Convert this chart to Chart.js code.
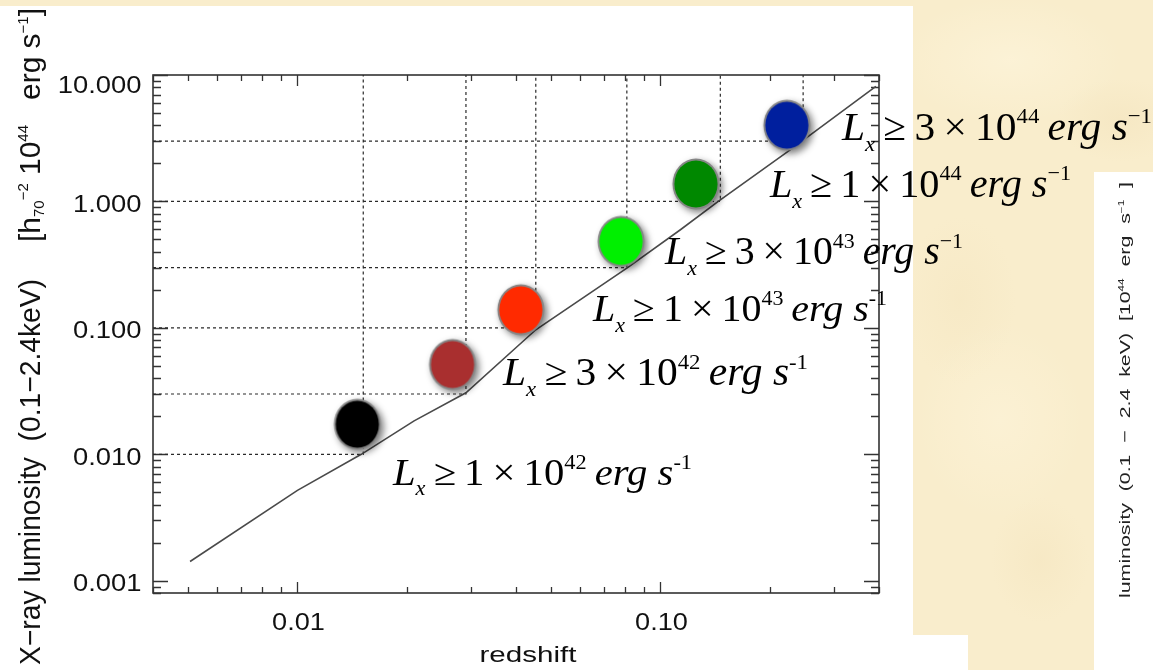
<!DOCTYPE html>
<html lang="en">
<head>
<meta charset="utf-8">
<title>X-ray luminosity limit vs redshift</title>
<script src="https://cdn.jsdelivr.net/npm/chart.js@4.4.1/dist/chart.umd.min.js"></script>
<style>
  html, body { margin: 0; padding: 0; }
  body {
    width: 1153px; height: 670px; overflow: hidden;
    background-color: #f9edcc;
    background-image:
      radial-gradient(ellipse 160px 90px at 1010px 60px, rgba(255,248,226,0.45), rgba(255,248,226,0) 70%),
      radial-gradient(ellipse 120px 140px at 1000px 420px, rgba(255,247,224,0.4), rgba(255,247,224,0) 70%),
      radial-gradient(ellipse 90px 60px at 1120px 120px, rgba(240,222,180,0.35), rgba(240,222,180,0) 70%),
      radial-gradient(ellipse 80px 120px at 960px 300px, rgba(242,225,184,0.3), rgba(242,225,184,0) 70%),
      radial-gradient(ellipse 70px 90px at 1040px 560px, rgba(242,225,184,0.35), rgba(242,225,184,0) 70%);
  }
  canvas { display: block; }
</style>
</head>
<body>
<canvas id="chart" width="1153" height="670"></canvas>
<script>
// Survey flux limit: minimum detectable luminosity as a function of redshift
const curveZ = [0.00506, 0.0100, 0.01499, 0.02096, 0.02912, 0.04535, 0.0810, 0.1135, 0.1443, 0.2247, 0.3922];
const curveL = [0.00142, 0.00519, 0.0100, 0.01840, 0.03066, 0.0966, 0.298, 0.5973, 1.000, 2.487, 8.124];

// Luminosity cuts and the redshift where the flux limit reaches each cut
const thresholdL = [0.01, 0.03, 0.1, 0.3, 1, 3];
const thresholdZ = [0.01518, 0.02912, 0.04535, 0.0808, 0.1462, 0.2472];

// Volume-limited sample markers
const sampleZ = [0.01462, 0.02674, 0.04125, 0.0779, 0.1252, 0.2229];
const sampleL = [0.01727, 0.0513, 0.139, 0.4827, 1.375, 4.007];
const sampleColors = ['#000000', '#a92f2f', '#ff2a00', '#00f000', '#008800', '#001f9e'];

// Text of the cut labels: L_x >= m x 10^e erg s^-1
const limitMantissa = ['1', '3', '1', '3', '1', '3'];
const limitExponent = ['42', '42', '43', '43', '44', '44'];

// Axes
const xTickValues = [0.01, 0.1];
const xTickLabels = ['0.01', '0.10'];
const yTickValues = [0.001, 0.01, 0.1, 1, 10];
const yTickLabels = ['0.001', '0.010', '0.100', '1.000', '10.000'];
const X_RANGE = [0.004, 0.4];
const Y_RANGE = [0.0008, 10];

// Placement of the cut labels (left edge, baseline, run length, font size)
const labelLayout = [
  { x: 393, y: 485, w: 299, size: 37, minus: '-' },
  { x: 503, y: 385, w: 305, size: 39, minus: '-' },
  { x: 593, y: 321, w: 294, size: 38, minus: '-' },
  { x: 665, y: 264, w: 298, size: 39, minus: '\u2212' },
  { x: 770, y: 197, w: 301, size: 40, minus: '\u2212' },
  { x: 842, y: 140, w: 310, size: 40, minus: '\u2212' }
];

const SANS = '"Liberation Sans", Arial, sans-serif';
const SERIF = '"Liberation Serif", "Times New Roman", serif';

function minorValues(min, max) {
  const out = [];
  for (let e = Math.floor(Math.log10(min)); e <= Math.ceil(Math.log10(max)); e++) {
    for (let k = 2; k <= 9; k++) {
      const v = k * Math.pow(10, e);
      if (v >= min * 0.999 && v <= max * 1.001) out.push(v);
    }
  }
  return out;
}

function fontOf(r, family) {
  return (r.italic ? 'italic ' : '') + r.size.toFixed(2) + 'px ' + (r.family || family);
}
function runsWidth(ctx, runs, family) {
  let w = 0;
  for (const r of runs) { ctx.font = fontOf(r, family); w += ctx.measureText(r.t).width; }
  return w;
}
// Draw a sequence of text runs (sub/superscripts via dy), optionally rotated and stretched
function drawRuns(ctx, runs, o) {
  ctx.save();
  const natural = runsWidth(ctx, runs, o.family);
  ctx.translate(o.x, o.y);
  if (o.rotate) ctx.rotate(o.rotate);
  const sx = o.length ? o.length / natural : (o.sx || 1);
  ctx.scale(sx, o.sy || 1);
  let cx = o.align === 'right' ? -natural : (o.align === 'center' ? -natural / 2 : 0);
  ctx.fillStyle = o.color || '#000';
  ctx.textBaseline = 'alphabetic';
  ctx.textAlign = 'left';
  for (const r of runs) {
    ctx.font = fontOf(r, o.family);
    ctx.fillText(r.t, cx, r.dy || 0);
    cx += ctx.measureText(r.t).width;
  }
  ctx.restore();
}

// Round marker with grey rim and soft drop shadow, used as a point style
function markerImage(fill) {
  const w = 74, h = 78;
  const c = document.createElement('canvas');
  c.width = w; c.height = h;
  const g = c.getContext('2d');
  g.save();
  g.shadowColor = 'rgba(0,0,0,0.5)';
  g.shadowBlur = 7;
  g.shadowOffsetX = 3;
  g.shadowOffsetY = 3;
  g.beginPath();
  g.ellipse(w / 2, h / 2, 23.5, 25.5, 0, 0, Math.PI * 2);
  g.fillStyle = '#868686';
  g.fill();
  g.restore();
  g.beginPath();
  g.ellipse(w / 2, h / 2, 21.6, 23.6, 0, 0, Math.PI * 2);
  g.fillStyle = fill;
  g.fill();
  return c;
}

const framePlugin = {
  id: 'frame',
  beforeDraw(chart) {
    const ctx = chart.ctx;
    ctx.save();
    ctx.fillStyle = '#ffffff';
    ctx.fillRect(0, 6, 913, 664);
    ctx.fillRect(913, 635, 55, 35);
    ctx.fillRect(1094, 172, 59, 498);
    ctx.restore();
  },
  beforeDatasetsDraw(chart) {
    const ctx = chart.ctx;
    const a = chart.chartArea;
    const xs = chart.scales.x, ys = chart.scales.y;
    ctx.save();
    ctx.strokeStyle = '#333333';
    ctx.lineWidth = 1.6;
    ctx.strokeRect(a.left, a.top, a.right - a.left, a.bottom - a.top);

    ctx.lineWidth = 1.3;
    ctx.beginPath();
    const xMinor = minorValues(X_RANGE[0], X_RANGE[1]);
    const yMinor = minorValues(Y_RANGE[0], Y_RANGE[1]);
    const xt = (v, len) => {
      const px = Math.round(xs.getPixelForValue(v)) + 0.5;
      ctx.moveTo(px, a.bottom); ctx.lineTo(px, a.bottom - len);
      ctx.moveTo(px, a.top); ctx.lineTo(px, a.top + len);
    };
    const yt = (v, len) => {
      const py = Math.round(ys.getPixelForValue(v)) + 0.5;
      ctx.moveTo(a.left, py); ctx.lineTo(a.left + len, py);
      ctx.moveTo(a.right, py); ctx.lineTo(a.right - len, py);
    };
    xMinor.forEach(v => xt(v, 6));
    xTickValues.forEach(v => xt(v, 11));
    yMinor.forEach(v => yt(v, 8));
    yTickValues.forEach(v => yt(v, 15));
    ctx.stroke();
    ctx.restore();

    // tick labels
    const F = 23;
    yTickValues.forEach((v, i) => {
      const py = ys.getPixelForValue(v);
      const cy = Math.max(py + 2, a.top + 10);
      drawRuns(ctx, [{ t: yTickLabels[i], size: F }], {
        x: 141.5, y: cy + 0.358 * F, align: 'right', sx: 1.19, family: SANS, color: '#111'
      });
    });
    xTickValues.forEach((v, i) => {
      const px = xs.getPixelForValue(v);
      drawRuns(ctx, [{ t: xTickLabels[i], size: F }], {
        x: px + 1, y: 630, align: 'center', sx: 1.18, family: SANS, color: '#111'
      });
    });

    // axis titles
    drawRuns(ctx, [{ t: 'redshift', size: 21.5 }], {
      x: 528, y: 661.5, align: 'center', length: 97, family: SANS, color: '#111'
    });
    const T = 28;
    drawRuns(ctx, [{ t: 'X\u2212ray luminosity  (0.1\u22122.4keV)', size: T }], {
      x: 40, y: 665, rotate: -Math.PI / 2, length: 386, sy: 1.05, family: SANS, color: '#111'
    });
    drawRuns(ctx, [
      { t: '[h', size: T },
      { t: '70', size: T * 0.5, dy: T * 0.12 },
      { t: '\u22122', size: T * 0.5, dy: -T * 0.42 },
      { t: ' 10', size: T },
      { t: '44', size: T * 0.5, dy: -T * 0.42 },
      { t: '   erg s', size: T },
      { t: '\u22121', size: T * 0.5, dy: -T * 0.42 },
      { t: ']', size: T }
    ], { x: 40, y: 242, rotate: -Math.PI / 2, length: 234, sy: 1.05, family: SANS, color: '#111' });

    // side caption
    const S = 21;
    drawRuns(ctx, [
      { t: 'luminosity  (0.1  \u2212  2.4  keV)  [10', size: S },
      { t: '44', size: S * 0.55, dy: -S * 0.42 },
      { t: '  erg  s', size: S },
      { t: '\u22121', size: S * 0.55, dy: -S * 0.42 },
      { t: '  ]', size: S }
    ], { x: 1130, y: 598, rotate: -Math.PI / 2, length: 416, sy: 0.72, family: SANS, color: '#222' });
  },
  afterDraw(chart) {
    const ctx = chart.ctx;
    labelLayout.forEach((p, i) => {
      const F = p.size;
      drawRuns(ctx, [
        { t: 'L', size: F, italic: true },
        { t: 'x', size: F * 0.55, italic: true, dy: F * 0.28 },
        { t: '\u2009\u2265\u2009', size: F },
        { t: limitMantissa[i], size: F },
        { t: '\u2009\u00d7\u2009', size: F },
        { t: '10', size: F },
        { t: limitExponent[i], size: F * 0.55, dy: -F * 0.42 },
        { t: '\u2009erg s', size: F, italic: true },
        { t: p.minus + '1', size: F * 0.55, dy: -F * 0.42 }
      ], { x: p.x, y: p.y, length: p.w, family: SERIF, color: '#000' });
    });
  }
};

const thresholdSets = thresholdL.map((L, i) => ({
  type: 'line',
  data: [
    { x: X_RANGE[0], y: L },
    { x: thresholdZ[i], y: L },
    { x: thresholdZ[i], y: Y_RANGE[1] }
  ],
  borderColor: '#2a2a2a',
  borderWidth: 1.2,
  borderDash: [3, 3],
  pointRadius: 0,
  fill: false,
  tension: 0,
  order: 3
}));

new Chart(document.getElementById('chart'), {
  type: 'scatter',
  data: {
    datasets: [
      {
        type: 'scatter',
        data: sampleZ.map((z, i) => ({ x: z, y: sampleL[i] })),
        pointStyle: sampleColors.map(markerImage),
        pointRadius: 24,
        pointHoverRadius: 24,
        clip: false,
        order: 0
      },
      {
        type: 'line',
        data: curveZ.map((z, i) => ({ x: z, y: curveL[i] })),
        borderColor: '#4a4a4a',
        borderWidth: 1.6,
        pointRadius: 0,
        fill: false,
        tension: 0,
        order: 1
      },
      ...thresholdSets
    ]
  },
  options: {
    responsive: false,
    devicePixelRatio: 1,
    animation: false,
    events: [],
    layout: { padding: { left: 153, top: 75, right: 274, bottom: 77 } },
    plugins: { legend: { display: false }, tooltip: { enabled: false } },
    scales: {
      x: { type: 'logarithmic', min: X_RANGE[0], max: X_RANGE[1], display: false },
      y: { type: 'logarithmic', min: Y_RANGE[0], max: Y_RANGE[1], display: false }
    }
  },
  plugins: [framePlugin]
});
</script>
</body>
</html>
